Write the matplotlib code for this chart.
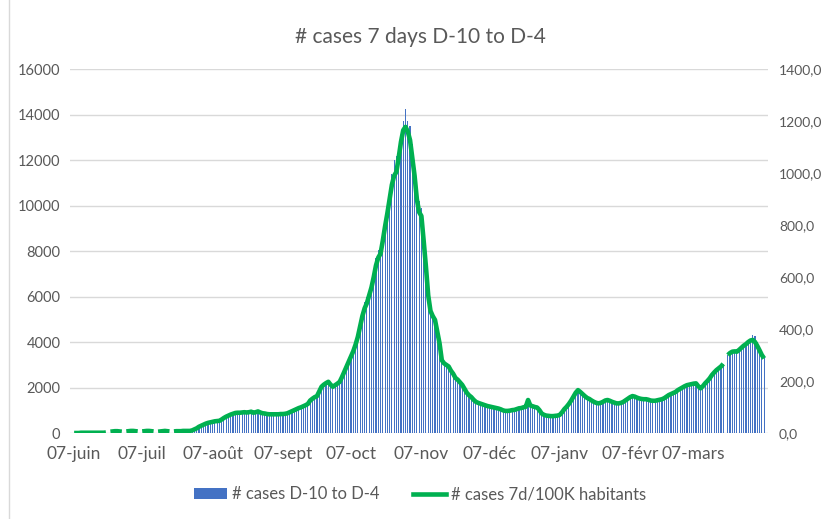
import numpy as np
import matplotlib
matplotlib.use("Agg")
import matplotlib.pyplot as plt
from matplotlib.patches import Patch
from matplotlib.lines import Line2D

nan = float("nan")

title = "# cases 7 days D-10 to D-4"
bar_label = "# cases D-10 to D-4"
line_label = "# cases 7d/100K habitants"

# month tick labels and their day index (day 0 = 07-juin)
tick_labels = ["07-juin", "07-juil", "07-août", "07-sept", "07-oct",
               "07-nov", "07-déc", "07-janv", "07-févr", "07-mars"]
tick_days = [0, 30, 61, 92, 122, 153, 183, 214, 245, 273]

# 7-day cases D-10 to D-4 (left axis), one value per day
cases = [
    0, 0, 0, 0, 0, 0, 0, 0, 0, 0,
    0, 0, 0, 0, 0, 0, 0, 0, 0, 0,
    0, 0, 0, 0, 0, 0, 0, 0, 0, 0,
    0, 0, 0, 0, 0, 0, 0, 0, 0, 0,
    0, 0, 0, 0, 0, 0, 0, 0, 0, 0,
    60, 90, 115, 160, 205, 275, 320, 365, 410, 445,
    470, 490, 515, 525, 535, 595, 665, 720, 765, 810,
    845, 880, 890, 890, 905, 915, 905, 915, 935, 890,
    915, 950, 905, 870, 855, 835, 825, 825, 825, 825,
    825, 835, 835, 845, 870, 915, 960, 1005, 1050, 1095,
    1130, 1175, 1225, 1280, 1430, 1510, 1575, 1625, 1830, 2035,
    2125, 2195, 2250, 2125, 2035, 2105, 2170, 2250, 2455, 2685,
    2950, 3250, 3500, 3750, 4050, 4450, 4900, 5400, 5750, 6000,
    6350, 6700, 7150, 7700, 8050, 8250, 8850, 9500, 10100, 10750,
    11400, 12000, 12200, 12600, 13100, 13700, 14250, 13700, 13500, 12700,
    11500, 10700, 10200, 9900, 8800, 7500, 6200, 5400, 5200, 5000,
    4450, 3950, 3250, 3100, 3000, 2950, 2750, 2600, 2430, 2350,
    2230, 2115, 1945, 1770, 1655, 1575, 1465, 1370, 1325, 1290,
    1255, 1225, 1190, 1165, 1145, 1120, 1095, 1075, 1040, 995,
    970, 970, 985, 1005, 1015, 1050, 1085, 1095, 1130, 1155,
    1450, 1210, 1175, 1145, 1120, 1005, 855, 800, 765, 755,
    745, 745, 755, 765, 800, 915, 1050, 1155, 1280, 1430,
    1600, 1770, 1885, 1805, 1715, 1625, 1545, 1495, 1430, 1370,
    1325, 1305, 1325, 1370, 1430, 1450, 1415, 1370, 1335, 1305,
    1305, 1325, 1370, 1440, 1510, 1575, 1625, 1600, 1555, 1520,
    1495, 1485, 1485, 1465, 1430, 1415, 1415, 1440, 1465, 1485,
    1530, 1600, 1670, 1715, 1760, 1805, 1885, 1945, 2000, 2055,
    2105, 2125, 2150, 2170, 2185, 2055, 1965, 2055, 2185, 2285,
    2400, 2550, 2665, 2765, 2845, 2925, 3040, nan, 3430, 3520,
    3580, 3590, 3580, 3660, 3750, 3840, 3910, 4000, 4150, 4300,
    4250, 4000, 3700, 3450, 3280,
]

# 7-day cases per 100K inhabitants (right axis), one value per day
per100k = [
    0, 0, 0, 1, 1, 1, 1, 1, 1, 1,
    1, 1, 1, 1, 2, nan, 5, 6, 7, 7,
    6, 5, nan, 6, 7, 8, 8, 7, 6, nan,
    6, 7, 8, 8, 7, 6, nan, 5, 6, 7,
    8, 7, 6, nan, 6, 7, 7, 7, 8, 8,
    8, 8, 10, 14, 18, 24, 28, 32, 36, 39,
    41, 43, 45, 46, 47, 52, 58, 63, 67, 71,
    74, 77, 78, 78, 79, 80, 79, 80, 82, 78,
    80, 83, 79, 76, 75, 73, 72, 72, 72, 72,
    72, 73, 73, 74, 76, 80, 84, 88, 92, 96,
    99, 103, 107, 112, 125, 132, 138, 142, 160, 178,
    186, 192, 197, 186, 178, 184, 190, 197, 215, 235,
    255, 275, 295, 315, 340, 370, 410, 450, 480, 500,
    530, 560, 600, 645, 675, 690, 740, 795, 845, 900,
    955, 990, 1005, 1060, 1120, 1165, 1178, 1160, 1127, 1060,
    990, 900, 850, 835, 740, 640, 530, 470, 450, 435,
    390, 345, 280, 268, 262, 256, 240, 228, 212, 205,
    195, 185, 170, 155, 145, 138, 128, 120, 116, 113,
    110, 107, 104, 102, 100, 98, 96, 94, 91, 87,
    85, 85, 86, 88, 89, 92, 95, 96, 99, 101,
    127, 106, 103, 100, 98, 88, 75, 70, 67, 66,
    65, 65, 66, 67, 70, 80, 92, 101, 112, 125,
    140, 155, 165, 158, 150, 142, 135, 131, 125, 120,
    116, 114, 116, 120, 125, 127, 124, 120, 117, 114,
    114, 116, 120, 126, 132, 138, 142, 140, 136, 133,
    131, 130, 130, 128, 125, 124, 124, 126, 128, 130,
    134, 140, 146, 150, 154, 158, 165, 170, 175, 180,
    184, 186, 188, 190, 191, 180, 172, 180, 191, 200,
    210, 223, 233, 242, 249, 256, 266, nan, 300, 308,
    313, 314, 313, 320, 328, 336, 342, 350, 356, 358,
    350, 335, 318, 300, 287,
]

days = np.arange(len(cases))

TXT = "#595959"
BLUE = "#4472C4"
GREEN = "#00B050"
GRID = "#D9D9D9"

plt.rcParams["font.family"] = ["Lato", "DejaVu Sans"]

fig = plt.figure(figsize=(8.24, 5.19), dpi=100)
ax = fig.add_axes([0.085, 0.1657, 0.847, 0.701])
ax2 = ax.twinx()

ax.bar(days, cases, width=0.5, color=BLUE, linewidth=0, zorder=2)
ax2.plot(days, per100k, color=GREEN, lw=3.3, solid_capstyle="butt",
         solid_joinstyle="round", zorder=3)

ax.set_xlim(-1.8, 305.7)
ax.set_ylim(0, 16000)
ax2.set_ylim(0, 1400)
ax.set_yticks(np.arange(0, 16001, 2000))
ax2.set_yticks(np.arange(0, 1401, 200))
ax2.set_yticklabels([f"{v:.1f}".replace(".", ",") for v in np.arange(0, 1401, 200)])

ax.set_xticks(tick_days)
ax.set_xticklabels(tick_labels)

ax.grid(axis="y", color=GRID, lw=1.0, zorder=0)
ax.set_axisbelow(True)
for a in (ax, ax2):
    for s in a.spines.values():
        s.set_visible(False)
    a.tick_params(length=0, colors=TXT)

ax.tick_params(axis="y", labelsize=10.5, pad=7)
ax.tick_params(axis="x", labelsize=12.5, pad=9)
ax2.tick_params(axis="y", labelsize=10, pad=8)

fig.text(0.51, 0.929, title, ha="center", va="center", fontsize=15, color=TXT)

handles = [Patch(facecolor=BLUE, edgecolor="none"),
           Line2D([0], [0], color=GREEN, lw=3.3)]
leg = fig.legend(handles, [bar_label, line_label], loc="center",
                 bbox_to_anchor=(0.51, 0.048), ncol=2, frameon=False,
                 fontsize=12, handlelength=2.0, handleheight=0.6,
                 handletextpad=0.3, columnspacing=2.0)
for t in leg.get_texts():
    t.set_color(TXT)

# chart frame line at left
fig.add_artist(Line2D([8.5 / 824, 8.5 / 824], [0, 1], color=GRID, lw=1.0,
                      transform=fig.transFigure))

fig.savefig("out.png", dpi=100)
